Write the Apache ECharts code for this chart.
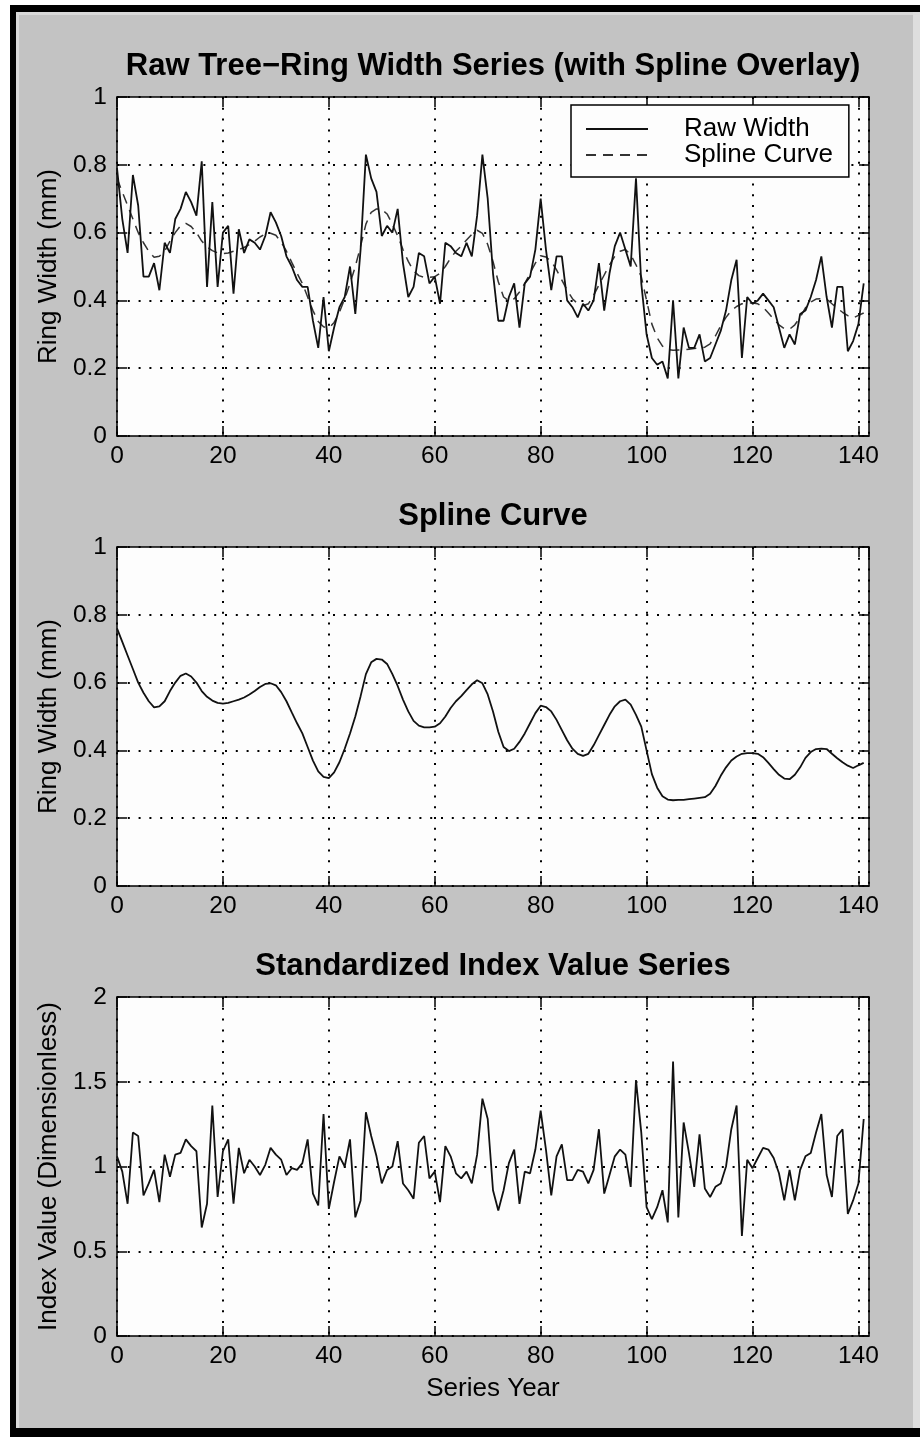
<!DOCTYPE html>
<html>
<head>
<meta charset="utf-8">
<title>Tree-Ring Width Standardization</title>
<script src="https://cdn.jsdelivr.net/npm/echarts@6/dist/echarts.min.js"></script>
<style>
  html, body { margin: 0; padding: 0; background: #ffffff; }
  #frame { position: absolute; left: 10px; top: 5px; width: 910px; height: 1432px; background: #000; }
  #panel { position: absolute; left: 16px; top: 12px; width: 897px; height: 1416px; background: #c3c3c3;
           box-sizing: border-box; border-top: 3px solid #d9d9d9; border-left: 3px solid #d9d9d9; }
  #edge { position: absolute; left: 913px; top: 12px; width: 7px; height: 1416px; background: #dedede; }
  #chart { position: absolute; left: 0; top: 0; width: 920px; height: 1437px; }
</style>
</head>
<body>
<div id="frame"></div>
<div id="panel"></div>
<div id="edge"></div>
<div id="chart"></div>
<script>
// Ring widths (mm) for series years 0..141
const rawWidth = [
  0.79,0.64,0.54,0.77,0.68,0.47,0.47,0.51,0.43,0.57,
  0.54,0.64,0.67,0.72,0.69,0.65,0.81,0.44,0.69,0.44,
  0.60,0.62,0.42,0.61,0.54,0.58,0.57,0.55,0.59,0.66,
  0.63,0.59,0.53,0.50,0.46,0.44,0.44,0.34,0.26,0.41,
  0.25,0.32,0.38,0.41,0.50,0.36,0.55,0.83,0.76,0.72,
  0.59,0.62,0.60,0.67,0.51,0.41,0.44,0.54,0.53,0.45,
  0.47,0.39,0.57,0.56,0.54,0.53,0.57,0.53,0.65,0.83,
  0.70,0.48,0.34,0.34,0.41,0.45,0.32,0.45,0.47,0.55,
  0.70,0.55,0.43,0.53,0.53,0.40,0.38,0.35,0.39,0.37,
  0.40,0.51,0.37,0.48,0.56,0.60,0.55,0.50,0.76,0.45,
  0.30,0.23,0.21,0.22,0.17,0.40,0.17,0.32,0.26,0.26,
  0.30,0.22,0.23,0.27,0.31,0.37,0.46,0.52,0.23,0.41,
  0.39,0.40,0.42,0.40,0.38,0.32,0.26,0.30,0.27,0.36,
  0.37,0.41,0.46,0.53,0.41,0.32,0.44,0.44,0.25,0.28,
  0.33,0.45
];

// Fitted smoothing spline (mm)
const splineCurve = [
  0.76,0.72,0.68,0.64,0.60,0.57,0.545,0.527,0.53,0.545,
  0.575,0.60,0.62,0.627,0.618,0.60,0.575,0.558,0.547,0.540,
  0.538,0.540,0.545,0.55,0.556,0.565,0.575,0.587,0.596,0.598,
  0.592,0.572,0.545,0.512,0.48,0.45,0.41,0.37,0.338,0.322,
  0.318,0.335,0.365,0.405,0.45,0.50,0.56,0.625,0.66,0.67,
  0.668,0.655,0.625,0.59,0.55,0.515,0.487,0.473,0.468,0.468,
  0.47,0.48,0.50,0.525,0.545,0.56,0.578,0.595,0.607,0.598,
  0.565,0.515,0.455,0.41,0.398,0.405,0.425,0.45,0.48,0.51,
  0.532,0.528,0.515,0.49,0.46,0.43,0.405,0.39,0.384,0.39,
  0.415,0.445,0.475,0.505,0.53,0.545,0.55,0.535,0.505,0.47,
  0.40,0.33,0.29,0.265,0.255,0.253,0.254,0.254,0.256,0.258,
  0.26,0.262,0.272,0.295,0.325,0.35,0.37,0.382,0.39,0.392,
  0.392,0.39,0.38,0.363,0.345,0.328,0.317,0.315,0.328,0.35,
  0.378,0.395,0.404,0.405,0.404,0.39,0.377,0.365,0.355,0.348,
  0.356,0.363
];

// Standardized (dimensionless) index values
const indexValue = [
  1.06,0.97,0.78,1.20,1.18,0.83,0.90,0.98,0.79,1.07,
  0.94,1.07,1.08,1.16,1.12,1.09,0.64,0.78,1.36,0.82,
  1.09,1.16,0.78,1.11,0.96,1.04,1.00,0.95,1.01,1.11,
  1.07,1.04,0.95,0.99,0.98,1.02,1.16,0.84,0.77,1.31,
  0.75,0.91,1.06,1.00,1.16,0.70,0.80,1.32,1.18,1.06,
  0.90,0.98,1.00,1.15,0.90,0.86,0.81,1.14,1.18,0.93,
  0.97,0.79,1.12,1.06,0.96,0.93,0.97,0.90,1.07,1.40,
  1.28,0.86,0.74,0.86,1.02,1.10,0.78,0.97,0.96,1.10,
  1.33,1.10,0.83,1.06,1.13,0.92,0.92,0.98,0.97,0.90,
  0.98,1.22,0.84,0.95,1.06,1.10,1.07,0.88,1.51,1.20,
  0.76,0.69,0.76,0.86,0.67,1.62,0.70,1.26,1.08,0.88,
  1.19,0.87,0.82,0.88,0.90,1.00,1.22,1.36,0.59,1.04,
  0.99,1.05,1.11,1.10,1.05,0.96,0.80,0.98,0.80,0.98,
  1.06,1.08,1.20,1.31,0.95,0.82,1.18,1.22,0.72,0.80,
  0.90,1.28
];

const panelTitles = [
  'Raw Tree\u2212Ring Width Series (with Spline Overlay)',
  'Spline Curve',
  'Standardized Index Value Series'
];
const yNames = ['Ring Width (mm)', 'Ring Width (mm)', 'Index Value (Dimensionless)'];
const yMax = [1, 1, 2];
const yStep = [0.2, 0.2, 0.5];
const xName = 'Series Year';
const xMax = 142;
const xStep = 20;

const TEXT_FONT = 'Liberation Sans';
const TITLE_FONT = 'Liberation Sans';
const gridTops = [97, 547, 997];
const gridHeight = 339;

const toPoints = arr => arr.map((v, i) => [i, v]);

const dotted = { color: '#000', width: 2, type: [2, 8.8] };
const frameLine = { show: true, onZero: false, lineStyle: { color: '#000', width: 1.5 } };
const inTick = { show: true, inside: true, length: 10, lineStyle: { color: '#000', width: 1.5 } };
const tickStyle = { color: '#000', fontFamily: TEXT_FONT, fontSize: 24.5 };
const nameStyle = { color: '#000', fontFamily: TEXT_FONT, fontSize: 26 };

const grids = [], xAxes = [], yAxes = [], titles = [];
gridTops.forEach((top, g) => {
  grids.push({ left: 117, width: 752, top: top, height: gridHeight, show: true,
               backgroundColor: '#fdfdfd', borderWidth: 0 });
  titles.push({ text: panelTitles[g], left: 493, top: top - 46, textAlign: 'center', padding: 0,
                textStyle: { fontFamily: TITLE_FONT, fontWeight: 'bold', fontSize: 31, color: '#000' } });
  // bottom + top x axes (box with inward ticks)
  xAxes.push({ gridIndex: g, type: 'value', position: 'bottom', min: 0, max: xMax, interval: xStep,
               axisLine: frameLine, axisTick: inTick,
               axisLabel: Object.assign({ margin: 8, showMaxLabel: false }, tickStyle),
               splitLine: { show: true, lineStyle: dotted },
               name: g === 2 ? xName : '', nameLocation: 'middle', nameGap: 40,
               nameTextStyle: nameStyle });
  xAxes.push({ gridIndex: g, type: 'value', position: 'top', min: 0, max: xMax, interval: xStep,
               axisLine: frameLine, axisTick: inTick, axisLabel: { show: false },
               splitLine: { show: false } });
  // left + right y axes
  yAxes.push({ gridIndex: g, type: 'value', position: 'left', min: 0, max: yMax[g], interval: yStep[g],
               axisLine: frameLine, axisTick: inTick,
               axisLabel: Object.assign({ margin: 10 }, tickStyle),
               splitLine: { show: true, lineStyle: dotted },
               name: yNames[g], nameLocation: 'middle', nameGap: 52, nameRotate: 90,
               nameTextStyle: nameStyle });
  yAxes.push({ gridIndex: g, type: 'value', position: 'right', min: 0, max: yMax[g], interval: yStep[g],
               axisLine: frameLine, axisTick: inTick, axisLabel: { show: false },
               splitLine: { show: false } });
});

const chart = echarts.init(document.getElementById('chart'), null, { renderer: 'canvas' });
chart.setOption({
  backgroundColor: 'transparent',
  animation: false,
  color: ['#111', '#333', '#111', '#111'],
  title: titles,
  grid: grids,
  xAxis: xAxes,
  yAxis: yAxes,
  legend: {
    data: ['Raw Width', 'Spline Curve'],
    orient: 'vertical',
    left: 571, top: 105,
    padding: [11, 16, 9, 14],
    itemWidth: 62, itemHeight: 14, itemGap: 0,
    itemStyle: { opacity: 0 },
    backgroundColor: '#fdfdfd', borderColor: '#000', borderWidth: 1.5, borderRadius: 0,
    selectedMode: false,
    textStyle: { fontFamily: TEXT_FONT, fontSize: 26, color: '#000', padding: [0, 0, 0, 31] }
  },
  series: [
    { name: 'Raw Width', type: 'line', xAxisIndex: 0, yAxisIndex: 0, data: toPoints(rawWidth),
      symbol: 'none', itemStyle: { color: '#111' }, lineStyle: { color: '#111', width: 1.8 }, z: 3 },
    { name: 'Spline Curve', type: 'line', xAxisIndex: 0, yAxisIndex: 0, data: toPoints(splineCurve),
      symbol: 'none', itemStyle: { color: '#333' }, lineStyle: { color: '#333', width: 1.5, type: [10, 7] }, z: 2 },
    { name: 'Spline', type: 'line', xAxisIndex: 2, yAxisIndex: 2, data: toPoints(splineCurve),
      symbol: 'none', lineStyle: { color: '#111', width: 1.8 } },
    { name: 'Index', type: 'line', xAxisIndex: 4, yAxisIndex: 4, data: toPoints(indexValue),
      symbol: 'none', lineStyle: { color: '#111', width: 1.8 } }
  ]
});
</script>
</body>
</html>
